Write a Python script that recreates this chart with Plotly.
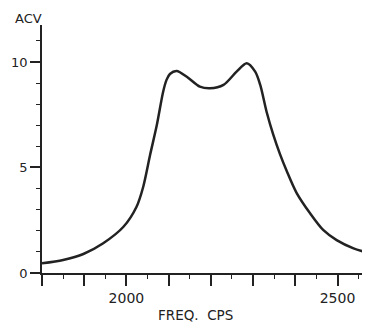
import plotly.graph_objects as go

# Data
freq = [1800, 1850, 1898, 1945, 1993, 2024, 2040, 2056, 2072, 2087, 2095, 2103,
        2119, 2143, 2174, 2198, 2230, 2261, 2285, 2305, 2317, 2332, 2348, 2364,
        2380, 2403, 2435, 2466, 2498, 2538, 2577]
acv = [0.46, 0.62, 0.90, 1.41, 2.19, 3.14, 4.10, 5.59, 7.01, 8.59, 9.15, 9.43,
       9.57, 9.30, 8.83, 8.75, 8.91, 9.54, 9.94, 9.54, 8.91, 7.64, 6.54, 5.62,
       4.82, 3.80, 2.83, 2.04, 1.56, 1.17, 0.93]

x_tickvals = [1800, 1900, 2000, 2100, 2200, 2300, 2400, 2500]
x_ticktext = ["", "", "2000", "", "", "", "", "2500"]
y_tickvals = [0, 5, 10]
y_ticktext = ["0", "5", "10"]

INK = "#222222"
FONT = "DejaVu Sans"

fig = go.Figure()
fig.add_trace(go.Scatter(
    x=freq, y=acv, mode="lines",
    line=dict(color=INK, width=2.5, shape="spline", smoothing=0.8),
    hoverinfo="skip", showlegend=False, cliponaxis=True,
))

# The page body has an 8px margin, so the figure is 8px smaller and
# its internal margins are shifted by 8px to land where the reference does.
fig.update_layout(
    width=362, height=316,
    margin=dict(l=34, r=0, t=17, b=51, autoexpand=False),
    paper_bgcolor="white", plot_bgcolor="white",
    font=dict(family=FONT, color=INK),
    xaxis=dict(
        range=[1800, 2577], showgrid=False, zeroline=False,
        showline=True, linecolor=INK, linewidth=1.6,
        tickmode="array", tickvals=x_tickvals, ticktext=x_ticktext,
        ticks="outside", ticklen=11, tickwidth=1.5, tickcolor=INK,
        tickfont=dict(size=14, family=FONT, color=INK),
        minor=dict(dtick=50, tick0=1800, ticks="outside", ticklen=4,
                   tickwidth=1.3, tickcolor=INK, showgrid=False),
    ),
    yaxis=dict(
        range=[0, 11.75], showgrid=False, zeroline=False,
        showline=True, linecolor=INK, linewidth=1.6,
        tickmode="array", tickvals=y_tickvals, ticktext=y_ticktext,
        ticks="outside", ticklen=10, tickwidth=1.5, tickcolor=INK,
        tickfont=dict(size=13, family=FONT, color=INK),
        minor=dict(dtick=1, tick0=0, ticks="outside", ticklen=4,
                   tickwidth=1.3, tickcolor=INK, showgrid=False),
    ),
    annotations=[
        dict(text="ACV", xref="paper", yref="paper", x=(28 - 42) / 328,
             y=(273 - 18.5) / 248, xanchor="center", yanchor="middle",
             showarrow=False, font=dict(size=13, family=FONT, color=INK)),
        dict(text="FREQ.  CPS", xref="paper", yref="paper",
             x=(195.5 - 42) / 328, y=(273 - 315) / 248,
             xanchor="center", yanchor="middle", showarrow=False,
             font=dict(size=13.5, family=FONT, color=INK)),
    ],
)

fig.write_html("out.html")
